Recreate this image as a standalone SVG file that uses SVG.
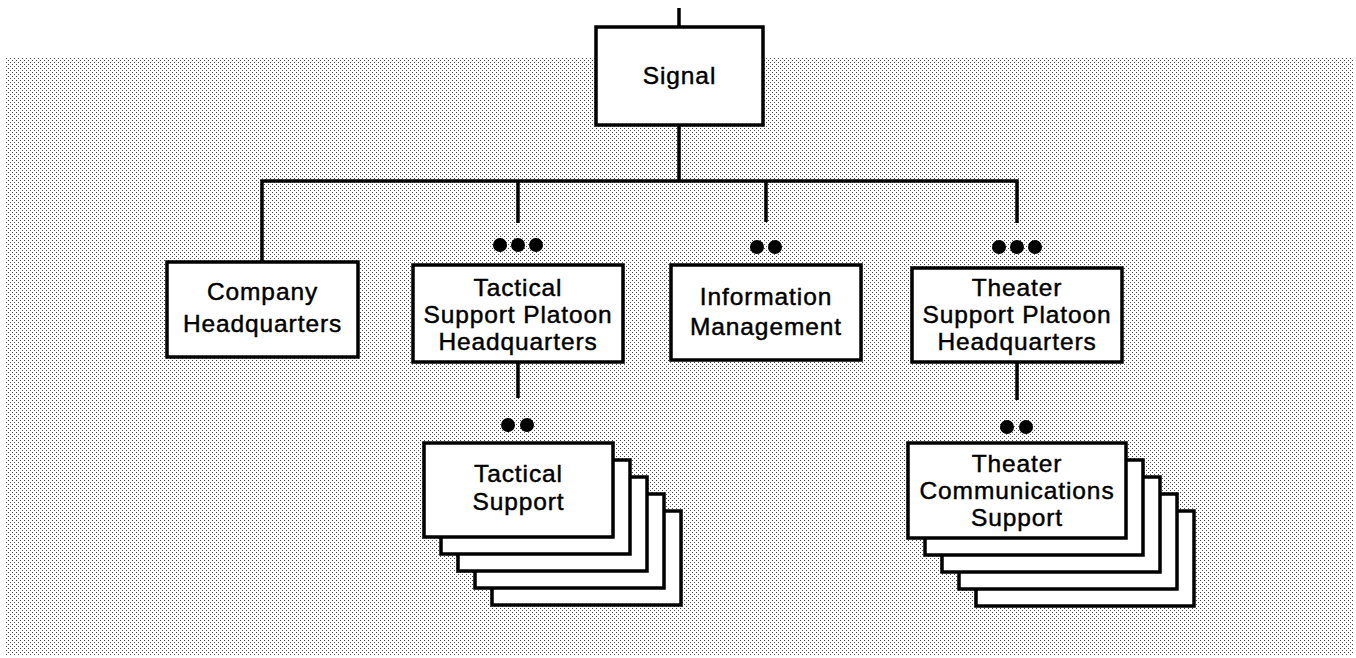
<svg xmlns="http://www.w3.org/2000/svg" width="1356" height="658" viewBox="0 0 1356 658">
<defs>
<pattern id="dots" x="0" y="0" width="4" height="4" patternUnits="userSpaceOnUse">
<rect x="0" y="0" width="1" height="1" fill="#444"/>
<rect x="2" y="2" width="1" height="1" fill="#555"/>
</pattern>
</defs>
<style>
.box{fill:#fff;stroke:#000;stroke-width:3.5}
.ln{fill:none;stroke:#000;stroke-width:3.5}
.dot{fill:#000}
text{font-family:"Liberation Sans",Arial,sans-serif;font-size:24.5px;letter-spacing:0.9px;text-anchor:middle;fill:#000;stroke:#000;stroke-width:0.45}
</style>
<rect x="0" y="0" width="1356" height="658" fill="#fff"/>
<rect x="6" y="58" width="1347" height="597" fill="url(#dots)"/>
<g id="connectors">
<line class="ln" x1="679" y1="8" x2="679" y2="27"/>
<line class="ln" x1="679" y1="125" x2="679" y2="181"/>
<polyline class="ln" points="262,262 262,181 1017,181 1017,223"/>
<line class="ln" x1="518" y1="181" x2="518" y2="223"/>
<line class="ln" x1="766" y1="181" x2="766" y2="222"/>
<line class="ln" x1="518" y1="362" x2="518" y2="398"/>
<line class="ln" x1="1017" y1="362" x2="1017" y2="400"/>
<circle class="dot" cx="500" cy="245" r="7"/>
<circle class="dot" cx="518" cy="245" r="7"/>
<circle class="dot" cx="536" cy="245" r="7"/>
<circle class="dot" cx="757" cy="247" r="7"/>
<circle class="dot" cx="775" cy="247" r="7"/>
<circle class="dot" cx="999" cy="247" r="7"/>
<circle class="dot" cx="1017" cy="247" r="7"/>
<circle class="dot" cx="1035" cy="247" r="7"/>
<circle class="dot" cx="508" cy="425" r="7"/>
<circle class="dot" cx="527" cy="425" r="7"/>
<circle class="dot" cx="1007" cy="427" r="7"/>
<circle class="dot" cx="1026" cy="427" r="7"/>
</g>
<g id="signal">
<rect class="box" x="596" y="27" width="167" height="98"/>
<text x="679.5" y="84">Signal</text>
</g>
<g id="company-hq">
<rect class="box" x="167" y="262" width="191" height="95"/>
<text x="262.5" y="300">Company</text>
<text x="262.5" y="332">Headquarters</text>
</g>
<g id="tactical-platoon-hq">
<rect class="box" x="413" y="265" width="210" height="97"/>
<text x="518" y="296">Tactical</text>
<text x="518" y="323">Support Platoon</text>
<text x="518" y="350">Headquarters</text>
</g>
<g id="information-management">
<rect class="box" x="671" y="265" width="190" height="95"/>
<text x="766" y="305">Information</text>
<text x="766" y="335">Management</text>
</g>
<g id="theater-platoon-hq">
<rect class="box" x="912" y="268" width="210" height="94"/>
<text x="1017" y="296">Theater</text>
<text x="1017" y="323">Support Platoon</text>
<text x="1017" y="350">Headquarters</text>
</g>
<g id="tactical-support">
<rect class="box" x="492" y="511" width="189" height="94"/>
<rect class="box" x="475" y="494" width="189" height="94"/>
<rect class="box" x="458" y="477" width="189" height="94"/>
<rect class="box" x="441" y="460" width="189" height="94"/>
<rect class="box" x="424" y="443" width="189" height="94"/>
<text x="518.5" y="482">Tactical</text>
<text x="518.5" y="510">Support</text>
</g>
<g id="theater-comm-support">
<rect class="box" x="976" y="511" width="218" height="95"/>
<rect class="box" x="959" y="494" width="218" height="95"/>
<rect class="box" x="942" y="477" width="218" height="95"/>
<rect class="box" x="925" y="460" width="218" height="95"/>
<rect class="box" x="908" y="443" width="218" height="95"/>
<text x="1017" y="472">Theater</text>
<text x="1017" y="499">Communications</text>
<text x="1017" y="526">Support</text>
</g>
</svg>
